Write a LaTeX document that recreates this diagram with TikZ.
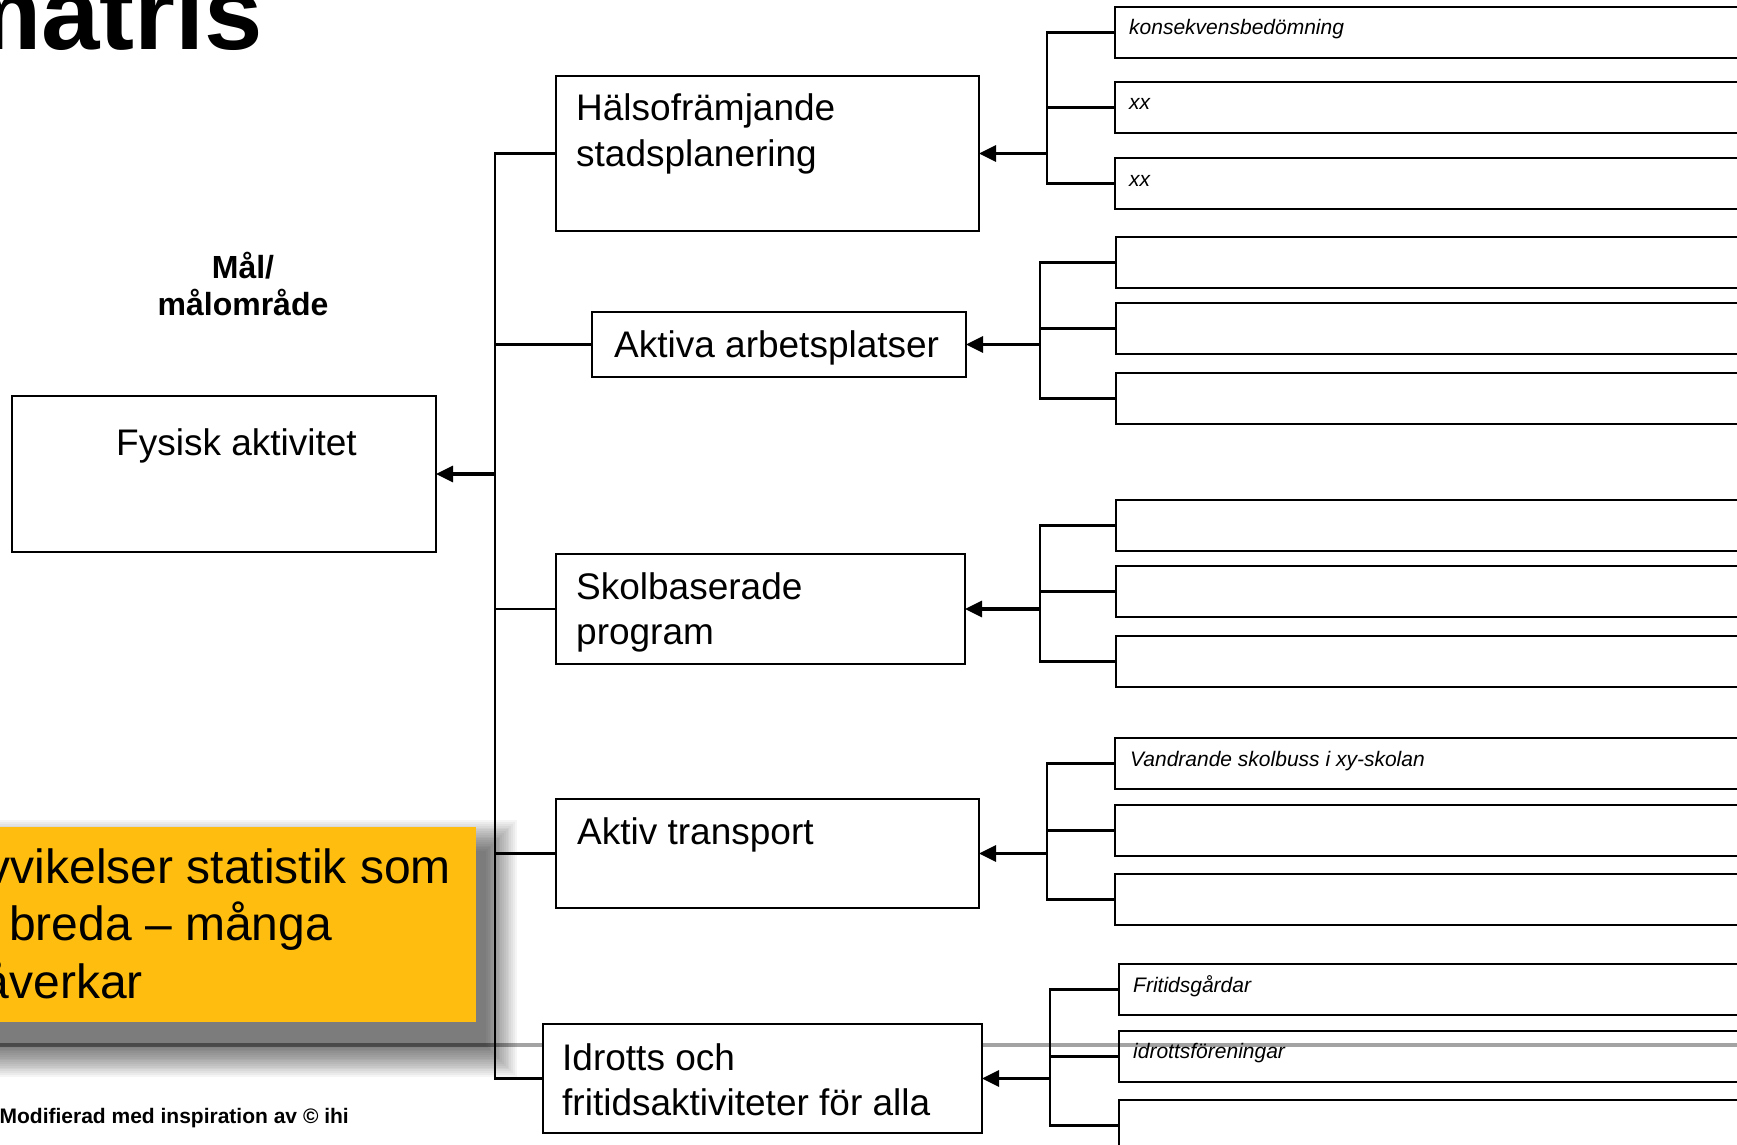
\documentclass[tikz,border=0pt]{standalone}
\usepackage{fontspec}
\setmainfont{Liberation Sans}
\usetikzlibrary{arrows.meta}
\definecolor{notefill}{RGB}{255,190,15}
\definecolor{rulegray}{RGB}{163,163,163}

\begin{document}
\begin{tikzpicture}[x=1pt,y=-1pt,
  mainbox/.style={draw, line width=2.2pt, fill=white, anchor=north west, inner sep=0pt, outer sep=0pt},
  subbox/.style={draw, line width=2.2pt, anchor=north west, inner sep=0pt, outer sep=0pt, minimum height=51pt},
  boxtext/.style={anchor=base west, inner sep=0pt, font=\fontsize{37}{45}\selectfont},
  subtext/.style={anchor=base west, inner sep=0pt, font=\itshape\fontsize{21}{25}\selectfont},
  notetext/.style={inner sep=0pt, font=\fontsize{48}{57}\selectfont},
  busline/.style={line width=2.2pt, line join=miter},
  bracket/.style={line width=2.8pt, line join=miter},
  feed/.style={line width=3.2pt, -{Triangle[length=17pt,width=16pt]}},
]
\useasboundingbox (0,0) rectangle (1737,1145);
\clip (0,0) rectangle (1737,1145);

% horizontal rule of the slide
\draw[line width=4pt, rulegray] (0,1045) -- (1737,1045);

% soft shadow behind the note, cast down and to the right
\foreach \k in {0,...,17}
  \fill[black, opacity=0.04] ({-20-1.8*\k},{851-1.8*\k}) rectangle ({486+1.8*\k},{1046+1.8*\k});

% note
\node[fill=notefill, anchor=north west, inner sep=0pt, outer sep=0pt,
      minimum width=506pt, minimum height=195pt] (note) at (-30,827) {};
\node[notetext, anchor=base east] (noteA) at (451,883) {vvikelser statistik som};
\node[notetext, anchor=base west] (noteB) at (9,940) {breda – många};
\node[notetext, anchor=base east] (noteC) at (143,998) {åverkar};

% heading and labels
\node[anchor=base west, inner sep=0pt, font=\bfseries\fontsize{105}{105}\selectfont] (title) at (-52,50) {matris};
\node[anchor=base, inner sep=0pt, font=\bfseries\fontsize{32}{37}\selectfont] (goalA) at (243,278) {Mål/};
\node[anchor=base, inner sep=0pt, font=\bfseries\fontsize{32}{37}\selectfont] (goalB) at (243,315) {målområde};
\node[anchor=base east, inner sep=0pt, font=\bfseries\fontsize{21}{25}\selectfont] (credit) at (349,1123) {Modifierad med inspiration av © ihi};

% goal
\node[mainbox, minimum width=424pt, minimum height=156pt] (fys) at (12,396) {};
\node[boxtext] (fysT) at (116,455) {Fysisk aktivitet};

% interventions
\node[mainbox, minimum width=423pt, minimum height=155pt] (hals) at (556,76) {};
\node[boxtext] (halsT1) at (576,121) {Hälsofrämjande};
\node[boxtext] (halsT2) at (576,166) {stadsplanering};

\node[mainbox, minimum width=374pt, minimum height=65pt] (akt) at (592,312) {};
\node[boxtext] (aktT) at (614,357) {Aktiva arbetsplatser};

\node[mainbox, minimum width=409pt, minimum height=110pt] (skol) at (556,554) {};
\node[boxtext] (skolT1) at (576,599) {Skolbaserade};
\node[boxtext] (skolT2) at (576,644) {program};

\node[mainbox, minimum width=423pt, minimum height=109pt] (trans) at (556,799) {};
\node[boxtext] (transT) at (577,844) {Aktiv transport};

\node[mainbox, minimum width=439pt, minimum height=109pt] (idr) at (543,1024) {};
\node[boxtext] (idrT1) at (562,1070) {Idrotts och};
\node[boxtext] (idrT2) at (562,1115) {fritidsaktiviteter för alla};

% activities
\node[subbox, minimum width=645pt] (s1a) at (1115,7) {};
\node[subbox, minimum width=645pt] (s1b) at (1115,82) {};
\node[subbox, minimum width=645pt] (s1c) at (1115,158) {};
\node[subtext] (s1aT) at (1129,35) {konsekvensbedömning};
\node[subtext] (s1bT) at (1129,110) {xx};
\node[subtext] (s1cT) at (1129,186) {xx};

\node[subbox, minimum width=644pt] (s2a) at (1116,237) {};
\node[subbox, minimum width=644pt] (s2b) at (1116,303) {};
\node[subbox, minimum width=644pt] (s2c) at (1116,373) {};

\node[subbox, minimum width=644pt] (s3a) at (1116,500) {};
\node[subbox, minimum width=644pt] (s3b) at (1116,566) {};
\node[subbox, minimum width=644pt] (s3c) at (1116,636) {};

\node[subbox, minimum width=645pt] (s4a) at (1115,738) {};
\node[subbox, minimum width=645pt] (s4b) at (1115,805) {};
\node[subbox, minimum width=645pt] (s4c) at (1115,874) {};
\node[subtext] (s4aT) at (1130,766) {Vandrande skolbuss i xy-skolan};

\node[subbox, minimum width=641pt] (s5a) at (1119,964) {};
\node[subbox, minimum width=641pt] (s5b) at (1119,1031) {};
\node[subbox, minimum width=641pt] (s5c) at (1119,1100) {};
\node[subtext] (s5aT) at (1133,992) {Fritidsgårdar};
\node[subtext] (s5bT) at (1133,1058) {idrottsföreningar};

% trunk towards the goal
\coordinate (busx) at (495,0);
\draw[busline] (hals.west) -- (hals.west -| busx) -- (idr.west -| busx) -- (idr.west);
\draw[busline] (akt.west) -- (akt.west -| busx);
\draw[busline] (skol.west) -- (skol.west -| busx);
\draw[busline] (trans.west) -- (trans.west -| busx);
\draw[feed] (fys.east -| busx) -- (fys.east);

% brackets from activities to interventions
\coordinate (b1) at (1047,0);
\draw[bracket] (s1a.west) -- (s1a.west -| b1) -- (s1c.west -| b1) -- (s1c.west);
\draw[bracket] (s1b.west) -- (s1b.west -| b1);
\draw[feed] (hals.east -| b1) -- (hals.east);

\coordinate (b2) at (1040,0);
\draw[bracket] (s2a.west) -- (s2a.west -| b2) -- (s2c.west -| b2) -- (s2c.west);
\draw[bracket] (s2b.west) -- (s2b.west -| b2);
\draw[feed] (akt.east -| b2) -- (akt.east);

\coordinate (b3) at (1040,0);
\draw[bracket] (s3a.west) -- (s3a.west -| b3) -- (s3c.west -| b3) -- (s3c.west);
\draw[bracket] (s3b.west) -- (s3b.west -| b3);
\draw[feed] (skol.east -| b3) -- (skol.east);

\coordinate (b4) at (1047,0);
\draw[bracket] (s4a.west) -- (s4a.west -| b4) -- (s4c.west -| b4) -- (s4c.west);
\draw[bracket] (s4b.west) -- (s4b.west -| b4);
\draw[feed] (trans.east -| b4) -- (trans.east);

\coordinate (b5) at (1050,0);
\draw[bracket] (s5a.west) -- (s5a.west -| b5) -- (s5c.west -| b5) -- (s5c.west);
\draw[bracket] (s5b.west) -- (s5b.west -| b5);
\draw[feed] (idr.east -| b5) -- (idr.east);
\end{tikzpicture}
\end{document}
